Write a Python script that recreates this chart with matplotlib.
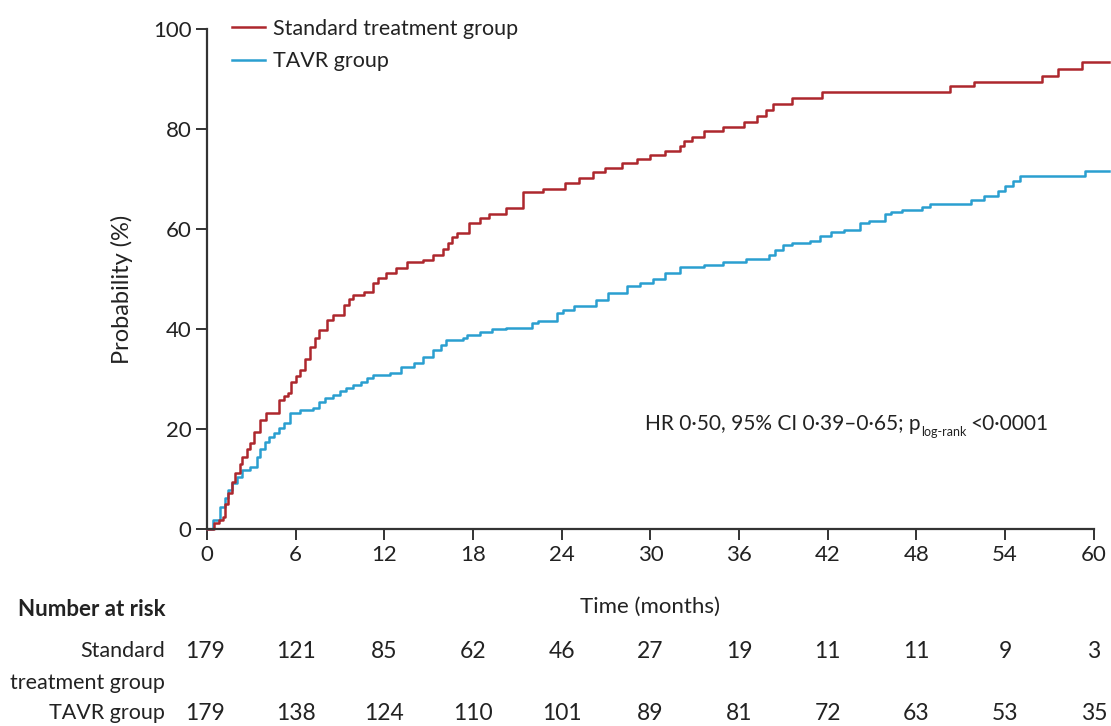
import matplotlib
matplotlib.use("Agg")
import matplotlib.pyplot as plt

FONTS = ['Lato', 'DejaVu Sans']
plt.rcParams['font.family'] = FONTS

# ---- data: (month, cumulative %) step points ----
std_steps = [
    (0, 0), (0.5, 1.3), (0.8, 1.9), (1.1, 2.5), (1.25, 5.0), (1.4, 7.3), (1.7, 9.5),
    (1.9, 11.3), (2.2, 13.0), (2.4, 14.5), (2.7, 16.0), (2.9, 17.3), (3.2, 19.5),
    (3.6, 21.9), (4.0, 23.3), (4.9, 25.9), (5.2, 26.6), (5.5, 27.3), (5.7, 29.5),
    (6.0, 30.7), (6.3, 31.9), (6.6, 34.0), (7.0, 36.5), (7.3, 38.3), (7.6, 39.9),
    (8.1, 41.9), (8.5, 42.9), (9.3, 44.9), (9.6, 46.0), (9.9, 46.9), (10.6, 47.5),
    (11.2, 49.2), (11.6, 50.3), (12.1, 51.2), (12.8, 52.2), (13.5, 53.5), (14.6, 53.9),
    (15.3, 54.9), (16.0, 56.0), (16.3, 57.3), (16.6, 58.5), (16.9, 59.2), (17.7, 61.2),
    (18.5, 62.2), (19.1, 63.0), (20.2, 64.2), (21.4, 67.5), (22.7, 68.0), (24.2, 69.2),
    (25.2, 70.2), (26.1, 71.4), (26.9, 72.2), (28.1, 73.2), (29.1, 74.0), (30.0, 74.8),
    (31.0, 75.6), (32.0, 76.7), (32.3, 77.6), (32.8, 78.5), (33.6, 79.6), (34.9, 80.4),
    (36.3, 81.4), (37.2, 82.6), (37.8, 83.9), (38.3, 85.1), (39.6, 86.3), (41.6, 87.4),
    (50.3, 88.7), (51.9, 89.5), (56.5, 90.7), (57.6, 92.0), (59.2, 93.5), (61.0, 93.5),
]
tavr_steps = [
    (0, 0), (0.4, 1.9), (0.9, 4.5), (1.2, 6.2), (1.4, 7.9), (1.7, 9.3), (2.0, 10.5),
    (2.4, 11.9), (2.9, 12.5), (3.4, 14.5), (3.6, 16.0), (3.9, 17.5), (4.2, 18.4),
    (4.5, 19.2), (4.9, 20.2), (5.2, 21.2), (5.6, 23.2), (6.3, 23.9), (7.2, 24.2),
    (7.6, 25.5), (8.0, 26.2), (8.5, 26.9), (9.0, 27.6), (9.4, 28.2), (9.9, 28.9),
    (10.4, 29.5), (10.8, 30.2), (11.2, 30.9), (12.4, 31.3), (13.1, 32.5), (14.0, 33.2),
    (14.6, 34.5), (15.3, 35.9), (15.8, 36.9), (16.2, 37.9), (17.3, 38.3), (17.6, 38.8),
    (18.5, 39.4), (19.3, 40.0), (20.2, 40.3), (22.0, 41.2), (22.4, 41.6), (23.7, 43.3),
    (24.1, 43.9), (24.8, 44.7), (26.3, 45.9), (27.1, 47.3), (28.4, 48.6), (29.3, 49.2),
    (30.2, 50.1), (31.0, 51.3), (32.0, 52.5), (33.6, 52.9), (34.9, 53.5), (36.5, 54.0),
    (38.0, 54.9), (38.4, 55.9), (39.0, 56.8), (39.6, 57.2), (40.8, 57.7), (41.5, 58.7),
    (42.2, 59.4), (43.1, 59.9), (44.2, 61.3), (44.8, 61.6), (45.9, 63.1), (46.3, 63.5),
    (47.0, 63.9), (48.4, 64.4), (48.9, 65.1), (51.7, 65.9), (52.6, 66.6), (53.5, 67.6),
    (54.0, 68.6), (54.5, 69.6), (55.0, 70.6), (59.4, 71.6), (61.0, 71.6),
]
std_t, std_v = zip(*std_steps)
tavr_t, tavr_v = zip(*tavr_steps)

risk_times = [0, 6, 12, 18, 24, 30, 36, 42, 48, 54, 60]
risk_std = [179, 121, 85, 62, 46, 27, 19, 11, 11, 9, 3]
risk_tavr = [179, 138, 124, 110, 101, 89, 81, 72, 63, 53, 35]
yticks = [0, 20, 40, 60, 80, 100]

RED = '#ad272d'
BLUE = '#2a9fd0'
TXT = '#222222'

W, H = 1111, 726
fig = plt.figure(figsize=(W / 100, H / 100), dpi=100)
ax = fig.add_axes([207 / W, 1 - 529.3 / H, (1108.6 - 207) / W, 500 / H])

ax.step(tavr_t, tavr_v, where='post', color=BLUE, lw=1.8, label='TAVR group', clip_on=False)
ax.step(std_t, std_v, where='post', color=RED, lw=1.8, label='Standard treatment group',
        clip_on=False)

ax.set_xlim(0, 61)
ax.set_ylim(0, 100)
ax.set_xticks(risk_times)
ax.set_yticks(yticks)
for s in ['top', 'right']:
    ax.spines[s].set_visible(False)
ax.spines['bottom'].set_bounds(0, 60)
for s in ['left', 'bottom']:
    ax.spines[s].set_color('#333333')
    ax.spines[s].set_linewidth(1.6)
ax.tick_params(axis='both', direction='out', length=8, width=1.4, color='#333333',
               labelsize=16, labelcolor=TXT, pad=3)
ax.set_xlabel('Time (months)', fontsize=16, color=TXT)
ax.xaxis.set_label_coords(30 / 61, -0.135)
ax.set_ylabel('Probability (%)', fontsize=17, color=TXT)
ax.yaxis.set_label_coords(-74 / 901.6, 0.48)

h, l = ax.get_legend_handles_labels()
leg = ax.legend(h[::-1], l[::-1], loc='upper left', bbox_to_anchor=(223 / W, 1 - 10 / H),
                bbox_transform=fig.transFigure, frameon=False, fontsize=15.5,
                handlelength=1.55, handletextpad=0.37, labelspacing=0.58, borderaxespad=0)
for t in leg.get_texts():
    t.set_color(TXT)

# annotation with subscript
fig.canvas.draw()
r = fig.canvas.get_renderer()
x0, y0 = 645 / W, 1 - 424 / H
t1 = fig.text(x0, y0, 'HR 0·50, 95% CI 0·39–0·65; p', fontsize=15, color=TXT, va='center')
bb = t1.get_window_extent(r)
t2 = fig.text(bb.x1 / W + 0.5 / W, y0 - 8 / H, 'log-rank', fontsize=9, color=TXT, va='center')
bb2 = t2.get_window_extent(r)
fig.text(bb2.x1 / W + 4 / W, y0, '<0·0001', fontsize=15, color=TXT, va='center')

# number at risk table
def xf(t):
    return (207 + t * (1108.6 - 207) / 61) / W

fig.text(165 / W, 1 - 610 / H, 'Number at risk', fontsize=16, fontweight='bold',
         ha='right', va='center', color=TXT)
fig.text(165 / W, 1 - 651 / H, 'Standard', fontsize=15.5, ha='right', va='center', color=TXT)
fig.text(165 / W, 1 - 683 / H, 'treatment group', fontsize=15.5, ha='right', va='center', color=TXT)
fig.text(165 / W, 1 - 713 / H, 'TAVR group', fontsize=15.5, ha='right', va='center', color=TXT)
for t, a, b in zip(risk_times, risk_std, risk_tavr):
    xx = xf(t)
    if t == 0:
        xx = 205 / W
    if t == 60:
        xx = min(xx, 1098 / W)
    fig.text(xx, 1 - 651 / H, str(a), fontsize=16.5, ha='center', va='center', color=TXT)
    fig.text(xx, 1 - 713 / H, str(b), fontsize=16.5, ha='center', va='center', color=TXT)

fig.savefig('out.png', dpi=100)
